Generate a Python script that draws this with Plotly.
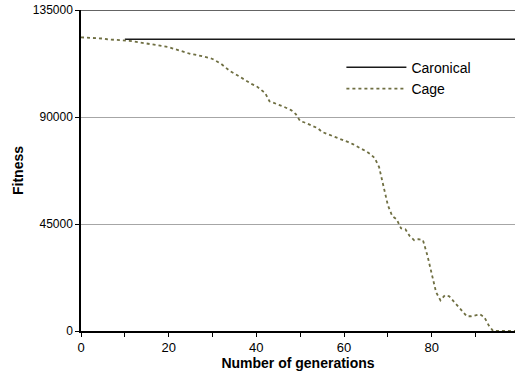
import plotly.graph_objects as go

generations = list(range(100))

cage = [
    123500, 123400, 123500, 123200, 123100, 123000, 122700, 122600, 122400, 122300,
    122200, 122000, 121800, 121500, 121300, 121100, 120700, 120400, 120100, 119800,
    119400, 118800, 118200, 117600, 117000, 116500, 116200, 115900, 115600, 115000,
    114400, 113500, 112300, 110800, 109300, 108300, 107200, 106000, 104700, 103800,
    103000, 101600, 100100, 96600, 96000, 95400, 94500, 93700, 92800, 91200,
    88300, 87700, 87000, 86200, 85300, 83700, 83000, 82400, 81800, 81100,
    80200, 79400, 78600, 77700, 76600, 75600, 74400, 72700, 68900, 61300,
    52900, 48300, 47000, 43200, 42800, 39900, 38200, 38600, 38200, 31900,
    23400, 16300, 12900, 15000, 14600, 12500, 10400, 8300, 6200, 6200,
    6600, 7000, 5800, 2400, 0, 0, 0, 0, 0, 0,
]

canonical_start = 10
canonical_value = 122700
canonical = [None if g < canonical_start else canonical_value for g in generations]

y_ticks = [0, 45000, 90000, 135000]
x_ticks = [0, 20, 40, 60, 80]

font_family = "Liberation Sans, Arial, sans-serif"

fig = go.Figure()
fig.add_trace(go.Scatter(
    x=generations, y=canonical, mode="lines", name="Caronical",
    line=dict(color="#1a1a1a", width=1.5), connectgaps=False,
))
fig.add_trace(go.Scatter(
    x=generations, y=cage, mode="lines", name="Cage",
    line=dict(color="#6f6f42", width=1.8, dash="dot"),
))

fig.update_layout(
    width=515, height=381,
    margin=dict(l=81, r=0, t=10, b=50),
    paper_bgcolor="white", plot_bgcolor="white",
    font=dict(family=font_family, size=12, color="black"),
    showlegend=True,
    legend=dict(
        x=0.6, y=0.87, xanchor="left", yanchor="top",
        bgcolor="rgba(0,0,0,0)", borderwidth=0,
        font=dict(family=font_family, size=14, color="black"),
        itemwidth=60, tracegroupgap=0,
    ),
    xaxis=dict(
        range=[0, 99], tickvals=x_ticks, ticktext=[str(v) for v in x_ticks],
        ticks="outside", ticklen=4, tickcolor="black",
        showline=True, linecolor="black", linewidth=1.5,
        showgrid=False, zeroline=False,
        minor=dict(dtick=10, tick0=0, ticks="outside", ticklen=4, tickcolor="black", showgrid=False),
        title=dict(text="<b>Number of generations</b>", font=dict(size=14, family=font_family), standoff=2),
        tickfont=dict(size=13),
    ),
    yaxis=dict(
        range=[0, 135000], tickvals=y_ticks, ticktext=[str(v) for v in y_ticks],
        ticks="outside", ticklen=4, tickcolor="black",
        showline=True, linecolor="black", linewidth=1.5,
        showgrid=True, gridcolor="#a6a6a6", gridwidth=1.2, zeroline=False,
        title=dict(text="<b>Fitness</b>", font=dict(size=14, family=font_family), standoff=6),
        tickfont=dict(size=12),
    ),
)

fig.add_shape(type="line", xref="paper", yref="y", x0=0, x1=1, y0=135000, y1=135000,
              line=dict(color="#303030", width=1.5))

fig.write_html("out.html")
